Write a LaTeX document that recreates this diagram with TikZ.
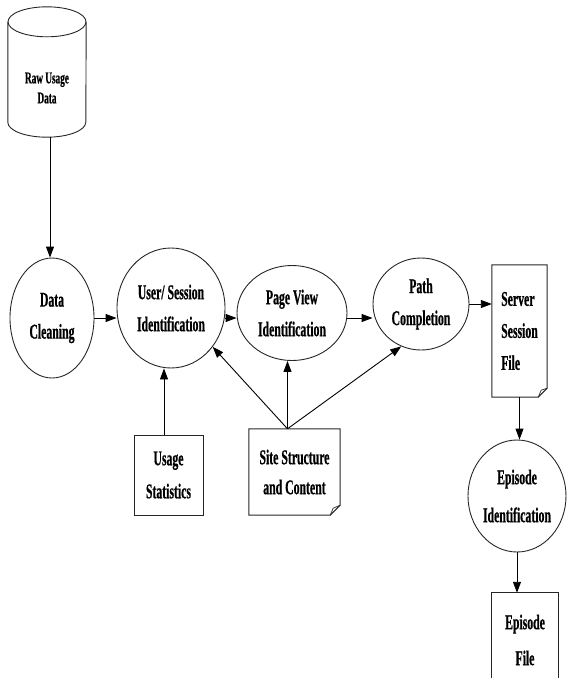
\documentclass[tikz,border=0pt]{standalone}
\usepackage{fontspec}
\newfontfamily\cf{Liberation Serif}[FakeStretch=0.56,FakeBold=0.6]
\usetikzlibrary{arrows.meta,shapes.geometric,calc}
\begin{document}
\begin{tikzpicture}[x=1pt,y=-1pt,
  every node/.style={font=\cf\bfseries\fontsize{21}{32}\selectfont, align=center, inner sep=0pt},
  proc/.style={ellipse, draw=black!85, line width=0.9pt},
  box/.style={rectangle, draw=black!85, line width=1pt},
  ghost/.style={rectangle, draw=none},
  docline/.style={draw=black!85, line width=1pt, line join=miter},
  arr/.style={-{Triangle[length=11pt,width=8pt]}, line width=0.9pt, draw=black},
  plain/.style={line width=0.9pt, draw=black}]
\useasboundingbox (0,0) rectangle (568,678);

% raw usage data cylinder
\node[ghost, minimum width=78pt, minimum height=130pt] (raw) at (47,72) {};
\draw[docline, line width=0.9pt] ($(raw.north)+(0,15)$) ellipse [x radius=39pt, y radius=15pt];
\draw[docline, line width=0.9pt] ($(raw.north west)+(0,15)$) -- ($(raw.south west)+(0,-15)$)
   arc[start angle=180, end angle=360, x radius=39pt, y radius=15pt] -- ($(raw.north east)+(0,15)$);
\node[font=\cf\bfseries\fontsize{16.5}{20}\selectfont] (rawtxt) at (47,88) {Raw Usage\\Data};
\coordinate (rawbot) at (50,137);

% process ellipses
\node[proc, minimum width=84pt, minimum height=120pt] (dc) at (52,318) {Data\\Cleaning};
\node[proc, minimum width=108pt, minimum height=120pt] (user) at (171,308) {User/ Session\\Identification};
\node[proc, minimum width=110pt, minimum height=95pt] (pv) at (292,313) {Page View\\Identification};
\node[proc, minimum width=96pt, minimum height=92pt] (path) at (421,304) {Path\\Completion};
\node[proc, minimum width=98pt, minimum height=112pt, font=\cf\bfseries\fontsize{21}{38}\selectfont] (epi) at (517,496) {Episode\\Identification};

% server session file (document)
\node[ghost, minimum width=55pt, minimum height=132pt, align=left] (server) at (519.5,331) {Server\\Session\\File};
\draw[docline] (server.north west) -- (server.north east) -- ([yshift=9pt]server.south east)
  -- ([xshift=-9pt]server.south east) -- (server.south west) -- cycle;
\draw[docline, line width=0.7pt] ([xshift=-9pt]server.south east) -- ([xshift=-6pt,yshift=7pt]server.south east) -- ([yshift=9pt]server.south east);

% usage statistics
\node[box, minimum width=69pt, minimum height=80pt, font=\cf\bfseries\fontsize{21}{33}\selectfont] (usage) at (168.5,475) {Usage\\Statistics};

% site structure (document)
\node[ghost, minimum width=91pt, minimum height=86pt, font=\cf\bfseries\fontsize{21}{30}\selectfont] (site) at (294.5,472) {Site Structure\\and Content};
\draw[docline] (site.north west) -- (site.north east) -- ([yshift=10pt]site.south east)
  -- ([xshift=-10pt]site.south east) -- (site.south west) -- cycle;
\draw[docline, line width=0.7pt] ([xshift=-10pt]site.south east) -- ([xshift=-7pt,yshift=7pt]site.south east) -- ([yshift=10pt]site.south east);

% episode file (runs off the bottom)
\node[ghost, minimum width=66pt, minimum height=94pt, font=\cf\bfseries\fontsize{21}{36}\selectfont] (ef) at (525,640) {Episode\\File};
\draw[docline] (ef.north west |- 0,678) -- (ef.north west) -- (ef.north east) -- (ef.north east |- 0,678);

% connectors
\draw[arr] (rawbot) -- (rawbot |- dc.north);
\draw[arr] (dc.east) -- (dc.east -| user.west);
\draw[arr] (user.east |- dc.east) -- (pv.west |- dc.east);
\draw[arr] (pv.east |- dc.east) -- (path.west |- dc.east);
\draw[arr] (path.east) -- (path.east -| server.west);
\draw[arr] (server.south) -- (server.south |- epi.north);
\draw[arr] (epi.south) -- (epi.south |- ef.north);
\draw[arr] ([xshift=-4.5pt]usage.north) -- ([xshift=-4.5pt]usage.north |- user.south);
\draw[arr] ([xshift=-7pt]site.north) -- (user.-43);
\draw[arr] ([xshift=-7pt]site.north) -- ([xshift=-7pt]site.north |- pv.south);
\draw[arr] ([xshift=-7pt]site.north) -- (path.245);
\end{tikzpicture}
\end{document}
